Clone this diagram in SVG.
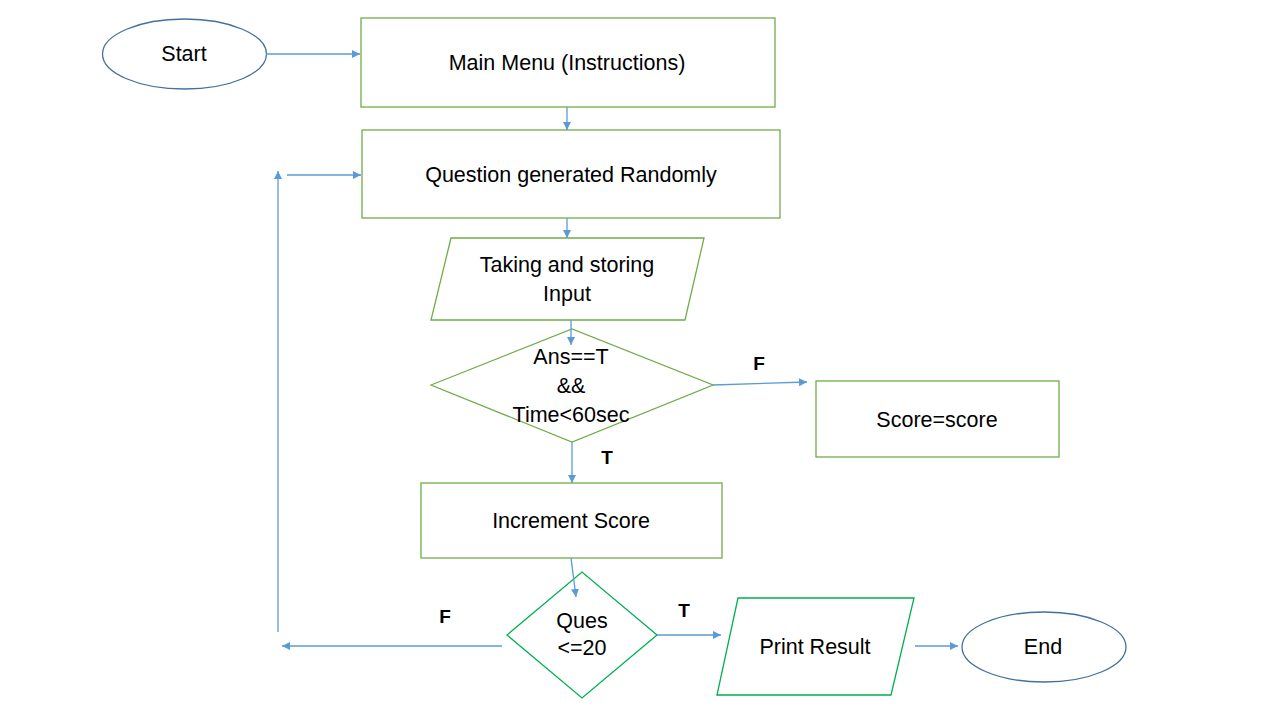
<svg xmlns="http://www.w3.org/2000/svg" width="1280" height="720" viewBox="0 0 1280 720">
<defs>
<marker id="ah" viewBox="0 0 10 10" refX="10" refY="5" markerWidth="8" markerHeight="8" markerUnits="userSpaceOnUse" orient="auto">
<path d="M0,0 L10,5 L0,10 z" fill="#5B9BD5"/>
</marker>
<style>
.c{fill:none;stroke:#5B9BD5;stroke-width:1.3}
.n{fill:#fff;stroke:#70AD47;stroke-width:1.3}
.g{fill:#fff;stroke:#00B050;stroke-width:1.3}
.e{fill:#fff;stroke:#41719C;stroke-width:1.3}
.t{font-family:"Liberation Sans",Arial,sans-serif;font-size:21.5px;fill:#000;text-anchor:middle;dominant-baseline:central}
.b{font-family:"Liberation Sans",Arial,sans-serif;font-size:19px;font-weight:bold;fill:#000;text-anchor:middle;dominant-baseline:central}
</style>
</defs>
<rect width="1280" height="720" fill="#fff"/>
<g id="start"><ellipse class="e" cx="184.5" cy="54" rx="82" ry="35"/><text class="t" x="184" y="54">Start</text></g>
<g id="mainmenu"><rect class="n" x="361" y="18" width="414" height="89"/><text class="t" x="567" y="63">Main Menu (Instructions)</text></g>
<g id="question"><rect class="n" x="362" y="130" width="418" height="88"/><text class="t" x="571" y="175">Question generated Randomly</text></g>
<g id="input"><polygon class="n" points="451,238 704,238 685,320 431,320"/><text class="t" x="567" y="265">Taking and storing</text><text class="t" x="567" y="294">Input</text></g>
<g id="check"><polygon class="n" points="431,385 572,329 713,385 572,442"/><text class="t" x="571" y="357">Ans==T</text><text class="t" x="571" y="386">&amp;&amp;</text><text class="t" x="571" y="415">Time&lt;60sec</text></g>
<g id="scorescore"><rect class="n" x="816" y="381" width="243" height="76"/><text class="t" x="937" y="420">Score=score</text></g>
<g id="increment"><rect class="n" x="421" y="483" width="301" height="75"/><text class="t" x="571" y="521">Increment Score</text></g>
<g id="ques"><polygon class="g" points="507,635 582,572 657,635 582,698"/><text class="t" x="582" y="621">Ques</text><text class="t" x="582" y="648">&lt;=20</text></g>
<g id="print"><polygon class="g" points="738,598 914,598 891,695 717,695"/><text class="t" x="815" y="647">Print Result</text></g>
<g id="end"><ellipse class="e" cx="1044" cy="647" rx="82" ry="35"/><text class="t" x="1043" y="647">End</text></g>
<g id="connectors">
<path class="c" d="M266,54 L360,54" marker-end="url(#ah)"/>
<path class="c" d="M567,107 L567,130" marker-end="url(#ah)"/>
<path class="c" d="M567,218 L567,238" marker-end="url(#ah)"/>
<path class="c" d="M571,320 L571,345" marker-end="url(#ah)"/>
<path class="c" d="M713,385 L807,382" marker-end="url(#ah)"/>
<path class="c" d="M572,442 L572,483" marker-end="url(#ah)"/>
<path class="c" d="M571,558 L576,597" marker-end="url(#ah)"/>
<path class="c" d="M657,635 L721,635" marker-end="url(#ah)"/>
<path class="c" d="M915,646 L958,646" marker-end="url(#ah)"/>
<path class="c" d="M502,646 L282,646" marker-end="url(#ah)"/>
<path class="c" d="M278,632 L278,171" marker-end="url(#ah)"/>
<path class="c" d="M287,175 L361,175" marker-end="url(#ah)"/>
<text class="b" x="759" y="363">F</text>
<text class="b" x="607" y="457">T</text>
<text class="b" x="684" y="610">T</text>
<text class="b" x="445" y="616">F</text>
</g>
</svg>
